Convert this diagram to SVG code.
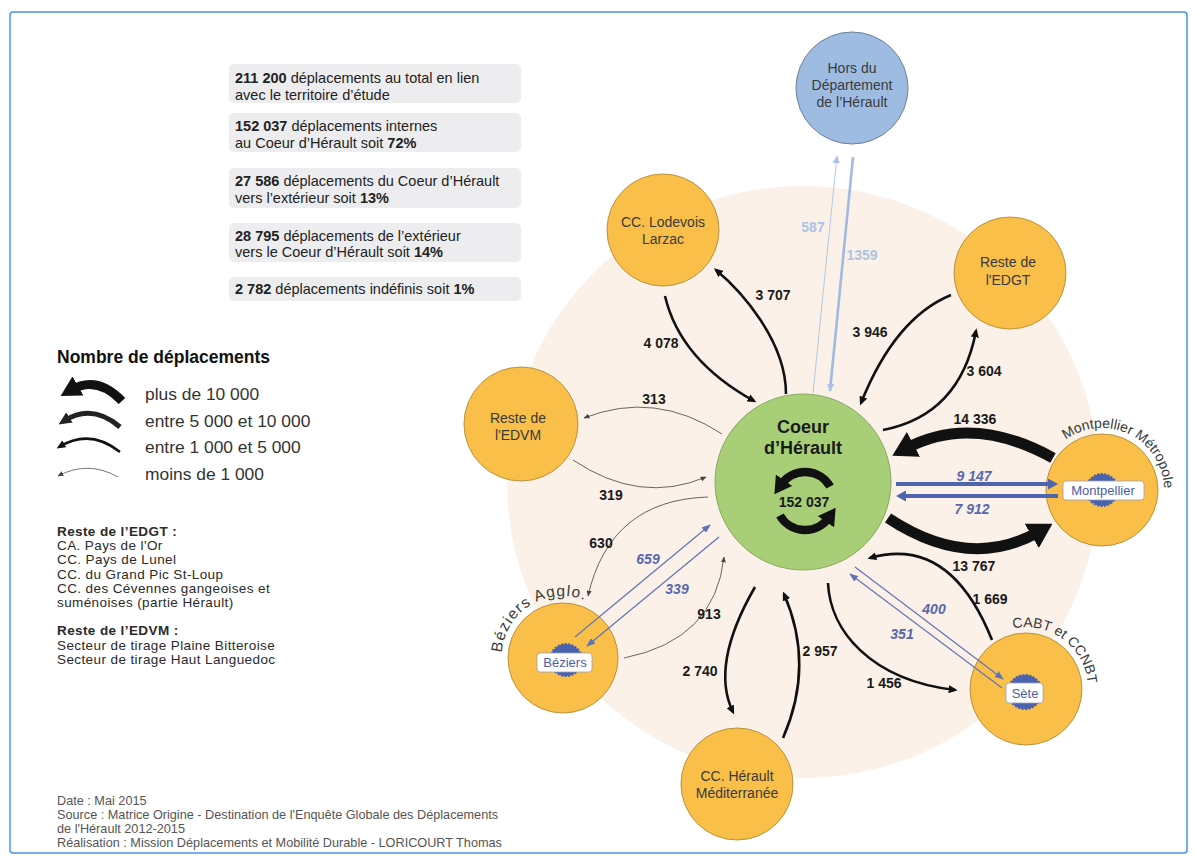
<svg xmlns="http://www.w3.org/2000/svg" width="1197" height="860" viewBox="0 0 1197 860">
<style>
text{font-family:"Liberation Sans",Arial,sans-serif}
.box{fill:#EDEDEF}
.bt{font-size:14.5px;fill:#222}
.b{font-weight:bold}
.leg{font-size:17.4px;fill:#333}
.note{font-size:13.5px;fill:#2a2a2a;letter-spacing:0.4px}
.foot{font-size:12.7px;fill:#555}
.node{fill:#F9BF48;stroke:#B8923F;stroke-width:1}
.nt{font-size:14px;fill:#3a3a3a;text-anchor:middle}
.lab{font-size:14px;font-weight:bold;fill:#1a1a1a;text-anchor:middle}
.blab{font-size:14px;font-weight:bold;font-style:italic;fill:#5868AE;text-anchor:middle}
.hlab{font-size:14px;font-weight:bold;fill:#ADC3E3;text-anchor:middle}
.k-xl{fill:none;stroke:#111;stroke-width:11}
.k-m{fill:none;stroke:#111;stroke-width:2.6}
.k-s{fill:none;stroke:#555;stroke-width:0.9}
.bl-l{fill:none;stroke:#4E64AD;stroke-width:4}
.bl-s{fill:none;stroke:#6272B6;stroke-width:1.2}
.arc-t{font-size:14px;fill:#3a3a3a}
.arc-b{font-size:15.5px;fill:#3a3a3a;letter-spacing:1.1px}
.city{fill:#4A62B0;stroke:#4A62B0;stroke-width:2;stroke-dasharray:2 1.5}
.cbox{fill:#fff;stroke:#9aa0b8;stroke-width:0.8}
.ct{font-size:13px;fill:#4A5EA8;text-anchor:middle}
</style>
<defs>
<marker id="ah-xl" viewBox="0 0 10 10" refX="4" refY="5" markerUnits="userSpaceOnUse" markerWidth="24" markerHeight="28" orient="auto" preserveAspectRatio="none"><path d="M0,0 L10,5 L0,10 z" fill="#111"/></marker>
<marker id="ah-lg" viewBox="0 0 10 10" refX="4" refY="5" markerUnits="userSpaceOnUse" markerWidth="20" markerHeight="22" orient="auto" preserveAspectRatio="none"><path d="M0,0 L10,5 L0,10 z" fill="#111"/></marker>
<marker id="ah-l5" viewBox="0 0 10 10" refX="5" refY="5" markerUnits="userSpaceOnUse" markerWidth="13" markerHeight="12" orient="auto" preserveAspectRatio="none"><path d="M0,0 L10,5 L0,10 z" fill="#222"/></marker>
<marker id="ah-m" viewBox="0 0 10 10" refX="7" refY="5" markerUnits="userSpaceOnUse" markerWidth="9" markerHeight="8" orient="auto" preserveAspectRatio="none"><path d="M0,0 L10,5 L0,10 z" fill="#111"/></marker>
<marker id="ah-s" viewBox="0 0 10 10" refX="9" refY="5" markerUnits="userSpaceOnUse" markerWidth="6" markerHeight="5" orient="auto" preserveAspectRatio="none"><path d="M0,0 L10,5 L0,10 z" fill="#444"/></marker>
<marker id="ah-b" viewBox="0 0 10 10" refX="6" refY="5" markerUnits="userSpaceOnUse" markerWidth="10" markerHeight="11" orient="auto" preserveAspectRatio="none"><path d="M0,0 L10,5 L0,10 z" fill="#4E64AD"/></marker>
<marker id="ah-bs" viewBox="0 0 10 10" refX="9" refY="5" markerUnits="userSpaceOnUse" markerWidth="9" markerHeight="7" orient="auto" preserveAspectRatio="none"><path d="M0,0 L10,5 L0,10 z" fill="#6272B6"/></marker>
<marker id="ah-lb" viewBox="0 0 10 10" refX="9" refY="5" markerUnits="userSpaceOnUse" markerWidth="8" markerHeight="7" orient="auto" preserveAspectRatio="none"><path d="M0,0 L10,5 L0,10 z" fill="#A9C3E6"/></marker>
<marker id="ah-ic" viewBox="0 0 10 10" refX="3" refY="5" markerUnits="userSpaceOnUse" markerWidth="17" markerHeight="20" orient="auto" preserveAspectRatio="none"><path d="M0,0 L10,5 L0,10 z" fill="#111"/></marker>
<path id="tp-mtp" d="M1065.6,439.8 A62,62 0 0 1 1160.3,511.2"/>
<path id="tp-sete" d="M1013.1,628.4 A62,62 0 0 1 1084.3,710.2"/>
<path id="tp-bez" d="M501.8,652.7 A61,61 0 0 1 620.3,637.1"/>
</defs>

<rect x="0" y="0" width="1197" height="860" fill="#fff"/>
<rect x="10" y="12" width="1177" height="841" rx="3" fill="none" stroke="#4D90F0" stroke-width="1.5"/>

<g id="summary">
<rect class="box" x="229" y="64" width="292" height="39" rx="5"/>
<text class="bt" x="235" y="83"><tspan class="b">211 200</tspan> déplacements au total en lien</text>
<text class="bt" x="235" y="100">avec le territoire d’étude</text>
<rect class="box" x="229" y="113" width="292" height="39" rx="5"/>
<text class="bt" x="235" y="131"><tspan class="b">152 037</tspan> déplacements internes</text>
<text class="bt" x="235" y="148">au Coeur d’Hérault soit <tspan class="b">72%</tspan></text>
<rect class="box" x="229" y="168" width="292" height="40" rx="5"/>
<text class="bt" x="235" y="186"><tspan class="b">27 586</tspan> déplacements du Coeur d’Hérault</text>
<text class="bt" x="235" y="203">vers l’extérieur soit <tspan class="b">13%</tspan></text>
<rect class="box" x="229" y="223" width="292" height="39" rx="5"/>
<text class="bt" x="235" y="241"><tspan class="b">28 795</tspan> déplacements de l’extérieur</text>
<text class="bt" x="235" y="257">vers le Coeur d’Hérault soit <tspan class="b">14%</tspan></text>
<rect class="box" x="229" y="277" width="292" height="24" rx="5"/>
<text class="bt" x="235" y="294"><tspan class="b">2 782</tspan> déplacements indéfinis soit <tspan class="b">1%</tspan></text>
</g>

<g id="legend">
<text x="57" y="363" font-size="17.5" font-weight="bold" fill="#111">Nombre de déplacements</text>
<path d="M122,401 Q97,375 71,390" fill="none" stroke="#111" stroke-width="9" marker-end="url(#ah-lg)"/>
<path d="M120,427 Q92,403 64,421" fill="none" stroke="#222" stroke-width="5" marker-end="url(#ah-l5)"/>
<path d="M120,452 Q90,428 59,447" fill="none" stroke="#111" stroke-width="2.6" marker-end="url(#ah-m)"/>
<path d="M118,477 Q88,460 58,476" fill="none" stroke="#666" stroke-width="0.9" marker-end="url(#ah-s)"/>
<text class="leg" x="145" y="400">plus de 10 000</text>
<text class="leg" x="145" y="427">entre 5 000 et 10 000</text>
<text class="leg" x="145" y="453">entre 1 000 et 5 000</text>
<text class="leg" x="145" y="480">moins de 1 000</text>
</g>

<g id="notes">
<text class="note b" x="57" y="536">Reste de l’EDGT :</text>
<text class="note" x="57" y="550">CA. Pays de l'Or</text>
<text class="note" x="57" y="564">CC. Pays de Lunel</text>
<text class="note" x="57" y="579">CC. du Grand Pic St-Loup</text>
<text class="note" x="57" y="593">CC. des Cévennes gangeoises et</text>
<text class="note" x="57" y="607">suménoises (partie Hérault)</text>
<text class="note b" x="57" y="635">Reste de l’EDVM :</text>
<text class="note" x="57" y="650">Secteur de tirage Plaine Bitteroise</text>
<text class="note" x="57" y="664">Secteur de tirage Haut Languedoc</text>
</g>

<g id="footer">
<text class="foot" x="57" y="805">Date : Mai 2015</text>
<text class="foot" x="57" y="819">Source : Matrice Origine - Destination de l'Enquête Globale des Déplacements</text>
<text class="foot" x="57" y="833">de l'Hérault 2012-2015</text>
<text class="foot" x="57" y="847">Réalisation : Mission Déplacements et Mobilité Durable - LORICOURT Thomas</text>
</g>

<circle id="territory" cx="803" cy="482" r="296" fill="#FBF1E8"/>

<g id="n-hors">
<circle cx="852" cy="88" r="56" fill="#9EBCE2" stroke="#6f8098" stroke-width="1"/>
<text class="nt" x="852" y="73">Hors du</text>
<text class="nt" x="852" y="90">Département</text>
<text class="nt" x="852" y="107">de l’Hérault</text>
</g>

<g id="n-lodevois">
<circle class="node" cx="663" cy="230" r="56"/>
<text class="nt" x="663" y="227">CC. Lodevois</text>
<text class="nt" x="663" y="244">Larzac</text>
</g>

<g id="n-edgt">
<circle class="node" cx="1010" cy="273" r="56"/>
<text class="nt" x="1008" y="267">Reste de</text>
<text class="nt" x="1008" y="285">l'EDGT</text>
</g>

<g id="n-edvm">
<circle class="node" cx="521" cy="424" r="57"/>
<text class="nt" x="518" y="423">Reste de</text>
<text class="nt" x="518" y="440">l'EDVM</text>
</g>

<g id="n-hm">
<circle class="node" cx="737" cy="784" r="56"/>
<text class="nt" x="737" y="781">CC. Hérault</text>
<text class="nt" x="737" y="798">Méditerranée</text>
</g>

<g id="n-montpellier">
<circle class="node" cx="1102" cy="490" r="56"/>
<text class="arc-t"><textPath href="#tp-mtp">Montpellier Métropole</textPath></text>
<circle class="city" cx="1102" cy="490" r="16"/>
<rect class="cbox" x="1063" y="481" width="81" height="19" rx="3"/>
<text class="ct" x="1103" y="495">Montpellier</text>
</g>

<g id="n-sete">
<circle class="node" cx="1026" cy="689" r="56"/>
<text class="arc-t"><textPath href="#tp-sete">CABT et CCNBT</textPath></text>
<circle class="city" cx="1025" cy="692" r="17"/>
<rect class="cbox" x="1006" y="683" width="37" height="20" rx="3"/>
<text class="ct" x="1025" y="698">Sète</text>
</g>

<g id="n-beziers">
<circle class="node" cx="563" cy="658" r="55"/>
<text class="arc-b"><textPath href="#tp-bez">Béziers Agglo.</textPath></text>
<circle class="city" cx="566" cy="660" r="16"/>
<rect class="cbox" x="537" y="653" width="55" height="19" rx="3"/>
<text class="ct" x="565" y="667">Béziers</text>
</g>

<g id="n-coeur">
<circle cx="803" cy="482" r="88" fill="#A8CF78" stroke="#8AA860" stroke-width="1"/>
<text x="803" y="433" font-size="18" font-weight="bold" fill="#1a1a1a" text-anchor="middle">Coeur</text>
<text x="803" y="454" font-size="18" font-weight="bold" fill="#1a1a1a" text-anchor="middle">d’Hérault</text>
<path d="M830.1,486.5 A29,29 0 0 0 781.2,484.4" fill="none" stroke="#111" stroke-width="8.5" marker-end="url(#ah-ic)"/>
<path d="M779.9,515.5 A29,29 0 0 0 828.8,517.6" fill="none" stroke="#111" stroke-width="8.5" marker-end="url(#ah-ic)"/>
<text x="804" y="507" font-size="14" font-weight="bold" fill="#1a1a1a" text-anchor="middle">152 037</text>
</g>

<g id="connectors">
<path class="k-m" d="M786,394 C786,340 740,290 716,270" marker-end="url(#ah-m)"/>
<path class="k-m" d="M665,296 Q680,360 754,401" marker-end="url(#ah-m)"/>
<path d="M813,393 L837,156" fill="none" stroke="#B4C8E6" stroke-width="1" marker-end="url(#ah-lb)"/>
<path d="M853,157 L830,391" fill="none" stroke="#A0BAE0" stroke-width="2.6" marker-end="url(#ah-lb)"/>
<path class="k-m" d="M951,295 Q895,318 861,403" marker-end="url(#ah-m)"/>
<path class="k-m" d="M883,430 Q960,415 976,331" marker-end="url(#ah-m)"/>
<path class="k-xl" d="M1053,458 Q972,413 905,449" marker-end="url(#ah-xl)"/>
<path class="k-xl" d="M888,518 Q970,572 1040,531" marker-end="url(#ah-xl)"/>
<path class="bl-l" d="M896,484 L1054,484" marker-end="url(#ah-b)"/>
<path class="bl-l" d="M1058,496 L900,496" marker-end="url(#ah-b)"/>
<path class="k-m" d="M992,640 Q950,535 870,558" marker-end="url(#ah-m)"/>
<path class="k-m" d="M828,583 C830,630 870,680 955,690" marker-end="url(#ah-m)"/>
<path class="bl-s" d="M855,567 L1003,679" marker-end="url(#ah-bs)"/>
<path class="bl-s" d="M1002,688 L850,574" marker-end="url(#ah-bs)"/>
<path class="k-m" d="M755,587 Q710,665 733,712" marker-end="url(#ah-m)"/>
<path class="k-m" d="M783,738 Q815,665 784,594" marker-end="url(#ah-m)"/>
<path class="k-s" d="M708,497 Q610,500 588,596" marker-end="url(#ah-s)"/>
<path class="k-s" d="M624,658 Q715,640 724,557" marker-end="url(#ah-s)"/>
<path class="bl-s" d="M575,637 L710,525" marker-end="url(#ah-bs)"/>
<path class="bl-s" d="M719,537 L587,646" marker-end="url(#ah-bs)"/>
<path class="k-s" d="M722,434 Q655,390 584,418" marker-end="url(#ah-s)"/>
<path class="k-s" d="M573,460 Q640,505 706,477" marker-end="url(#ah-s)"/>
</g>

<g id="connector-labels">
<text class="lab" x="773" y="300">3 707</text>
<text class="lab" x="661" y="348">4 078</text>
<text class="hlab" x="813" y="232">587</text>
<text class="hlab" x="862" y="260">1359</text>
<text class="lab" x="870" y="337">3 946</text>
<text class="lab" x="984" y="376">3 604</text>
<text class="lab" x="975" y="424">14 336</text>
<text class="blab" x="974" y="481">9 147</text>
<text class="blab" x="972" y="514">7 912</text>
<text class="lab" x="974" y="571">13 767</text>
<text class="lab" x="990" y="604">1 669</text>
<text class="blab" x="934" y="614">400</text>
<text class="blab" x="902" y="639">351</text>
<text class="lab" x="884" y="688">1 456</text>
<text class="lab" x="820" y="656">2 957</text>
<text class="lab" x="700" y="676">2 740</text>
<text class="lab" x="709" y="619">913</text>
<text class="blab" x="677" y="594">339</text>
<text class="blab" x="648" y="564">659</text>
<text class="lab" x="601" y="548">630</text>
<text class="lab" x="611" y="500">319</text>
<text class="lab" x="654" y="404">313</text>
</g>
</svg>
